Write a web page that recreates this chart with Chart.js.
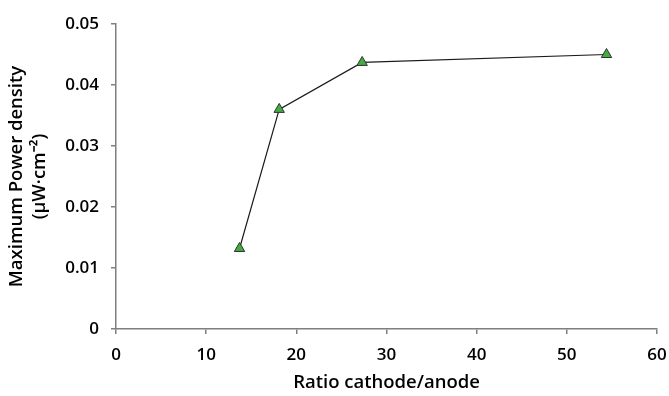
<!DOCTYPE html>
<html>
<head>
<meta charset="utf-8">
<script src="https://cdn.jsdelivr.net/npm/chart.js@4/dist/chart.umd.min.js"></script>
<style>
html,body{margin:0;padding:0;background:#fff;}
#wrap{width:669px;height:396px;position:relative;}
</style>
</head>
<body>
<div id="wrap"><canvas id="c" width="669" height="396"></canvas></div>
<script>
const ratios = [13.7, 18.1, 27.3, 54.4];
const powerDensity = [0.0132, 0.0360, 0.0437, 0.0450];
const xTicks = [0, 10, 20, 30, 40, 50, 60];
const yTicks = [0, 0.01, 0.02, 0.03, 0.04, 0.05];
const xTitle = 'Ratio cathode/anode';
const yTitle = ['Maximum Power density', '(µW·cm⁻²)'];

const points = ratios.map((x, i) => ({x: x, y: powerDensity[i]}));
const tickFont = {family: '"Open Sans", sans-serif', size: 17, weight: '600'};
const titleFont = {family: '"Open Sans", sans-serif', size: 18.5, weight: '600', lineHeight: 1.2};
const axisColor = '#7f7f7f';

new Chart(document.getElementById('c'), {
  type: 'scatter',
  data: {
    datasets: [{
      data: points,
      showLine: true,
      borderColor: '#1a1a1a',
      borderWidth: 1.2,
      pointStyle: 'triangle',
      pointRadius: 6,
      pointHoverRadius: 6,
      pointBackgroundColor: '#3fae3f',
      pointBorderColor: '#333333',
      pointBorderWidth: 1
    }]
  },
  options: {
    responsive: false,
    animation: false,
    layout: {padding: {top: 24, right: 0, left: 0, bottom: 0}},
    plugins: {legend: {display: false}, tooltip: {enabled: false}},
    scales: {
      x: {
        type: 'linear', min: 0, max: 60,
        afterBuildTicks: a => { a.ticks = xTicks.map(v => ({value: v})); },
        afterFit: s => { s.height = 67; s.paddingRight = 12; s.paddingLeft = 0; },
        ticks: {color: '#000', font: tickFont, padding: 11, maxRotation: 0},
        grid: {drawOnChartArea: false, drawTicks: true, tickLength: 5, color: axisColor, lineWidth: 1.5},
        border: {color: axisColor, width: 1.5},
        title: {display: true, text: xTitle, color: '#000', font: titleFont, padding: {top: 0, bottom: 2}}
      },
      y: {
        type: 'linear', min: 0, max: 0.05,
        afterBuildTicks: a => { a.ticks = yTicks.map(v => ({value: v})); },
        afterFit: s => { s.width = 116; s.paddingTop = 0; s.paddingBottom = 0; },
        ticks: {color: '#000', font: tickFont, padding: 12, callback: v => String(Math.round(v*100)/100)},
        grid: {drawOnChartArea: false, drawTicks: true, tickLength: 5, color: axisColor, lineWidth: 1.5},
        border: {color: axisColor, width: 1.5},
        title: {display: true, text: yTitle, color: '#000', font: titleFont, padding: {top: 6, bottom: 4}}
      }
    }
  }
});
</script>
</body>
</html>
